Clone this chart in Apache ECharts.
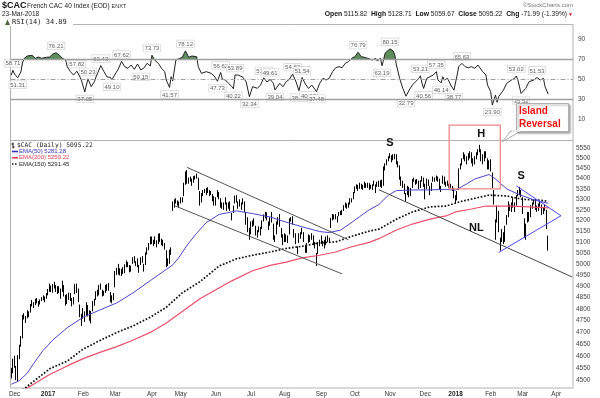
<!DOCTYPE html>
<html>
<head>
<meta charset="utf-8">
<script src="https://cdn.jsdelivr.net/npm/echarts@6/dist/echarts.min.js"></script>
<style>
html,body{margin:0;padding:0;background:#fff}
#main{width:600px;height:398px}
</style>
</head>
<body>
<div id="main"></div>
<script>
var monthNames = ['Jan', 'Feb', 'Mar', 'Apr', 'May', 'Jun', 'Jul', 'Aug', 'Sep', 'Oct', 'Nov', 'Dec'];
// Euronext closed days in range
var holidays = ['2016-12-26', '2017-04-14', '2017-04-17', '2017-05-01', '2017-12-25', '2017-12-26', '2018-01-01', '2018-03-30', '2018-04-02'];
var priceTicks = [4500, 4550, 4600, 4650, 4700, 4750, 4800, 4850, 4900, 4950, 5000, 5050, 5100, 5150, 5200, 5250, 5300, 5350, 5400, 5450, 5500, 5550];
var rsiTicks = [10, 30, 50, 70, 90];

// daily bars [open, high, low, close], one array per month
var nov16 = [[4536,4552,4509,4530],[4542,4590,4530,4578]];
var dec16 = [[4585,4602,4552,4560],[4545,4560,4502,4529],[4522,4605,4497,4600],[4600,4648,4588,4643],[4650,4685,4640,4677],
  [4685,4775,4675,4763],[4768,4782,4755,4770],[4758,4770,4740,4758],[4765,4795,4760,4783],[4780,4790,4765,4778],
  [4790,4822,4785,4815],[4818,4840,4812,4832],[4820,4830,4805,4815],[4825,4845,4818,4836],[4838,4848,4825,4833],
  [4828,4835,4810,4822],[4825,4842,4820,4838],[4845,4852,4835,4844],[4848,4860,4838,4847],[4840,4855,4830,4849],[4852,4870,4845,4862]];
var jan17 = [[4870,4888,4860,4882],[4890,4912,4875,4899],[4895,4903,4875,4887],[4885,4910,4872,4900],[4900,4920,4890,4909],
  [4900,4905,4875,4888],[4880,4900,4866,4888],[4890,4900,4870,4889],[4880,4890,4845,4863],[4880,4925,4875,4922],
  [4900,4905,4855,4863],[4855,4862,4815,4823],[4830,4865,4822,4860],[4860,4872,4840,4858],[4845,4870,4835,4850],
  [4840,4848,4812,4822],[4830,4852,4820,4848],[4870,4910,4865,4906],[4900,4912,4870,4878],[4880,4890,4830,4839],
  [4815,4820,4765,4774],[4770,4780,4728,4748]];
var feb17 = [[4765,4805,4758,4789],[4780,4790,4745,4766],[4775,4830,4770,4825],[4812,4818,4768,4776],[4780,4795,4750,4765],
  [4760,4792,4738,4785],[4795,4835,4790,4828],[4830,4845,4815,4827],[4845,4878,4840,4870],[4868,4885,4855,4880],
  [4878,4905,4860,4899],[4902,4912,4885,4899],[4880,4885,4855,4867],[4870,4880,4858,4868],[4875,4905,4870,4888],
  [4890,4910,4880,4895],[4905,4915,4880,4891],[4870,4875,4830,4845],[4845,4860,4825,4845],[4850,4870,4838,4858]];
var mar17 = [[4900,4968,4895,4960],[4965,4982,4950,4960],[4962,5000,4952,4995],[4975,4980,4948,4960],[4965,4978,4945,4963],
  [4960,4985,4955,4973],[4970,4998,4958,4990],[5000,5015,4985,4993],[4995,5008,4985,4999],[4990,4995,4962,4974],
  [4975,4992,4965,4985],[5010,5030,5000,5013],[5020,5035,5005,5013],[5005,5012,4990,5002],[5010,5025,4985,4995],
  [4970,4995,4960,4990],[5000,5030,4995,5022],[5025,5035,5005,5020],[4990,5000,4965,4994],[5000,5052,4995,5047],
  [5050,5075,5042,5069],[5070,5095,5062,5089],[5095,5125,5088,5122]];
var apr17 = [[5120,5125,5090,5101],[5095,5110,5082,5103],[5110,5125,5090,5100],[5090,5108,5075,5101],[5100,5138,5090,5132],
  [5130,5140,5100,5107],[5105,5115,5085,5101],[5100,5110,5080,5095],[5090,5095,5065,5071],[5060,5062,4985,4990],
  [5000,5025,4990,5004],[5010,5065,5000,5058],[5060,5075,5040,5059],[5255,5290,5245,5268],[5270,5300,5260,5289],
  [5290,5305,5280,5290],[5285,5295,5270,5283],[5280,5290,5260,5267]];
var may17 = [[5290,5310,5280,5304],[5300,5310,5285,5301],[5320,5380,5315,5372],[5375,5435,5370,5432],[5440,5442,5375,5383],
  [5385,5405,5375,5398],[5395,5410,5385,5400],[5395,5400,5365,5385],[5390,5412,5380,5405],[5400,5415,5395,5406],
  [5410,5425,5400,5417],[5400,5405,5345,5353],[5330,5340,5270,5284],[5290,5330,5285,5325],[5325,5345,5315,5335],
  [5340,5350,5330,5342],[5345,5355,5320,5342],[5345,5358,5330,5337],[5335,5345,5315,5336],[5330,5340,5320,5332],
  [5320,5325,5290,5305],[5305,5315,5270,5283]];
var jun17 = [[5280,5310,5270,5306],[5320,5345,5310,5343],[5330,5335,5300,5311],[5300,5305,5260,5270],[5270,5285,5255,5269],
  [5270,5285,5250,5273],[5280,5310,5275,5299],[5280,5285,5245,5259],[5265,5285,5255,5273],[5280,5290,5245,5253],
  [5225,5235,5200,5228],[5240,5270,5235,5263],[5285,5318,5280,5310],[5310,5320,5285,5293],[5280,5290,5255,5275],
  [5280,5300,5265,5281],[5275,5285,5250,5266],[5285,5305,5275,5287],[5280,5290,5240,5248],[5230,5240,5180,5195],
  [5205,5215,5145,5155],[5150,5165,5110,5120]];
var jul17 = [[5140,5195,5135,5188],[5185,5200,5170,5190],[5195,5210,5175,5187],[5170,5175,5130,5148],[5140,5155,5120,5145],
  [5155,5172,5145,5165],[5160,5170,5130,5145],[5165,5200,5160,5196],[5205,5228,5195,5222],[5220,5240,5210,5235],
  [5230,5238,5200,5211],[5190,5195,5155,5171],[5180,5215,5175,5208],[5210,5240,5190,5199],[5180,5185,5110,5117],
  [5115,5130,5100,5122],[5140,5195,5135,5188],[5190,5215,5180,5195],[5200,5230,5170,5186],[5160,5165,5120,5131],
  [5120,5135,5085,5093]];
var aug17 = [[5110,5140,5100,5130],[5125,5135,5100,5114],[5120,5130,5095,5116],[5140,5210,5135,5203],[5200,5215,5195,5209],
  [5205,5220,5180,5189],[5150,5160,5120,5130],[5125,5140,5090,5097],[5060,5080,5045,5060],[5100,5140,5095,5137],
  [5135,5145,5115,5132],[5145,5165,5135,5150],[5140,5145,5100,5110],[5080,5085,5050,5060],[5070,5095,5050,5090],
  [5100,5135,5095,5130],[5125,5130,5100,5117],[5120,5140,5110,5125],[5120,5130,5085,5090],[5090,5100,5070,5080],
  [5040,5050,4990,5029],[5050,5100,5045,5095],[5095,5110,5080,5085]];
var sep17 = [[5100,5130,5090,5119],[5100,5105,5080,5090],[5095,5110,5070,5095],[5090,5125,5085,5120],[5120,5130,5100,5115],
  [5105,5120,5095,5113],[5170,5212,5165,5208],[5210,5230,5200,5225],[5220,5228,5205,5219],[5220,5230,5205,5222],
  [5205,5220,5190,5213],[5225,5240,5220,5232],[5235,5245,5225,5234],[5235,5250,5225,5241],[5250,5272,5245,5267],
  [5270,5285,5260,5282],[5270,5280,5255,5268],[5270,5285,5260,5280],[5285,5305,5275,5300],[5295,5305,5285,5300],
  [5305,5335,5300,5330]];
var oct17 = [[5335,5362,5330,5359],[5360,5372,5350,5362],[5365,5370,5340,5350],[5355,5380,5350,5374],[5370,5375,5350,5360],
  [5360,5370,5345,5355],[5360,5385,5355,5374],[5370,5378,5355,5362],[5368,5380,5355,5366],[5370,5378,5345,5351],
  [5355,5370,5350,5361],[5360,5372,5345,5362],[5370,5390,5365,5383],[5365,5372,5330,5364],[5375,5385,5360,5372],
  [5380,5390,5360,5367],[5370,5392,5360,5388],[5390,5395,5355,5367],[5370,5460,5365,5454],[5460,5475,5440,5467],
  [5470,5495,5465,5491],[5495,5510,5485,5503]];
var nov17 = [[5510,5525,5500,5517],[5505,5515,5480,5489],[5495,5520,5490,5516],[5515,5522,5495,5512],[5515,5520,5470,5476],
  [5470,5485,5455,5470],[5460,5465,5395,5423],[5400,5410,5365,5380],[5375,5390,5355,5369],[5370,5375,5325,5342],
  [5320,5330,5290,5313],[5325,5365,5320,5362],[5350,5360,5310,5319],[5320,5355,5315,5347],[5360,5398,5355,5394],
  [5395,5405,5385,5395],[5390,5395,5370,5380],[5385,5398,5375,5390],[5385,5390,5350,5359],[5360,5392,5355,5387],
  [5395,5412,5385,5398],[5395,5405,5360,5372]];
var dec17 = [[5365,5375,5300,5317],[5355,5400,5350,5389],[5385,5395,5365,5376],[5360,5365,5320,5332],[5345,5380,5340,5376],
  [5390,5410,5385,5399],[5400,5405,5385,5393],[5400,5415,5390,5406],[5400,5410,5385,5398],[5395,5400,5345,5353],
  [5350,5365,5335,5350],[5380,5415,5375,5407],[5405,5410,5370,5375],[5370,5385,5360,5371],[5375,5390,5365,5374],
  [5370,5375,5355,5366],[5365,5375,5355,5366],[5355,5365,5340,5357],[5350,5355,5305,5313]];
var jan18 = [[5315,5320,5280,5288],[5300,5340,5295,5330],[5350,5450,5345,5446],[5450,5475,5445,5470],[5475,5500,5465,5497],
  [5505,5530,5495,5523],[5515,5520,5485,5504],[5500,5510,5470,5488],[5495,5525,5490,5517],[5520,5535,5500,5507],
  [5510,5530,5475,5481],[5480,5500,5460,5494],[5500,5510,5470,5489],[5500,5530,5495,5526],[5525,5545,5515,5540],
  [5550,5567,5530,5535],[5535,5545,5485,5495],[5500,5520,5470,5481],[5490,5535,5485,5529],[5525,5535,5500,5520],
  [5495,5500,5445,5457],[5460,5490,5445,5482]];
var feb18 = [[5480,5495,5435,5446],[5420,5430,5355,5364],[5330,5345,5275,5285],[5150,5205,5110,5162],[5200,5270,5190,5255],
  [5240,5245,5145,5151],[5095,5120,5060,5079],[5110,5160,5100,5140],[5130,5145,5090,5109],[5120,5175,5100,5167],
  [5190,5225,5180,5215],[5220,5290,5215,5283],[5270,5275,5245,5259],[5255,5285,5240,5263],[5270,5310,5260,5302],
  [5260,5285,5240,5268],[5280,5320,5270,5317],[5330,5345,5315,5339],[5340,5360,5320,5343],[5330,5345,5310,5320]];
var mar18 = [[5300,5310,5230,5242],[5200,5210,5120,5136],[5130,5185,5110,5176],[5200,5240,5190,5229],[5230,5240,5195,5212],
  [5220,5272,5215,5267],[5270,5285,5255,5275],[5290,5300,5275,5280],[5285,5295,5250,5261],[5260,5270,5240,5248],
  [5255,5280,5245,5274],[5275,5290,5265,5283],[5270,5275,5225,5233],[5240,5260,5230,5252],[5255,5275,5245,5268],
  [5245,5250,5160,5167],[5116,5129,5060,5095]];

// moving averages and RSI: [trading day #, value]
var ema50 = [[0,4485],[5,4500],[10,4530],[14,4570],[20,4625],[26,4668],[35,4720],[45,4765],[55,4795],[66,4827],[76,4870],
  [87,4925],[97,4975],[101,4995],[105,5030],[110,5085],[116,5140],[122,5190],[130,5228],[141,5245],[151,5232],[162,5216],
  [172,5192],[182,5170],[193,5148],[199,5143],[206,5155],[212,5185],[218,5218],[224,5250],[230,5275],[236,5320],[241,5342],
  [251,5345],[262,5345],[272,5348],[278,5344],[284,5370],[290,5398],[299,5420],[303,5398],[310,5350],[318,5322],[328,5295],[336,5281]];
var ema200 = [[8,4462],[24,4525],[35,4560],[45,4590],[55,4615],[66,4640],[76,4667],[87,4700],[97,4740],[107,4790],[118,4845],
  [138,4924],[151,4969],[162,4993],[172,5008],[182,5027],[193,5039],[203,5054],[213,5078],[224,5098],[230,5115],[241,5155],
  [251,5183],[262,5206],[272,5221],[278,5240],[288,5254],[297,5268],[303,5268],[313,5268],[324,5264],[336,5259]];
var ema150 = [[7,4462],[24,4548],[35,4580],[45,4630],[55,4664],[66,4700],[76,4727],[87,4765],[97,4808],[107,4871],[118,4920],
  [130,4990],[141,5023],[151,5039],[162,5054],[172,5070],[182,5080],[193,5096],[203,5100],[213,5126],[224,5150],[230,5159],
  [241,5206],[251,5240],[262,5264],[272,5268],[282,5291],[299,5320],[310,5316],[320,5300],[330,5296],[336,5291]];
var rsi = [[0,54],[1,58.71],[2,55],[4,51.31],[6,57],[7,66],[8,70.5],[10,73],[11,71.7],[13,73.7],[15,70.7],[17,72],[19,70.7],
  [22,71.7],[24,72],[26,75],[28,76.21],[30,74],[32,70.7],[34,69],[35,62.3],[37,57.3],[39,54],[40,53],[41,57.82],[43,52],[44,48],
  [46,37.05],[47,44],[48,50.23],[50,42.3],[52,47.3],[53,52],[54,55.7],[56,63.43],[58,57.3],[60,52],[62,51.7],[63,49.1],[65,55],
  [67,60],[69,67.62],[71,62.3],[73,60.7],[75,64],[77,59.7],[79,65],[81,59.15],[83,61],[85,65.7],[87,63],[88,73.73],[90,68.3],
  [92,65.7],[94,60.7],[96,57.3],[97,49],[99,41.57],[100,52.3],[101,48],[103,69],[104,70.7],[107,71.7],[108,72.3],[109,78.12],
  [111,71.7],[113,73],[116,72.3],[117,62.3],[119,55.7],[120,56.7],[122,57.3],[125,55.7],[127,53],[129,47.73],[131,56.62],
  [132,50],[134,49],[136,45.7],[138,42.3],[139,40.22],[140,53.89],[142,54],[145,51.7],[147,47],[149,32.34],[151,42.3],[154,40.7],
  [156,44],[158,51.21],[160,47],[162,49.61],[164,45.7],[165,39.04],[168,45.7],[170,42.3],[172,47.3],[174,49.7],[176,54.82],
  [178,48],[180,38.34],[182,51.54],[184,45],[186,40.57],[188,44],[191,37.48],[193,45.7],[195,50.7],[197,49],[199,50.7],[201,57.3],
  [203,61.3],[205,62.3],[207,61.3],[209,65.7],[211,67.3],[213,70.7],[215,72.3],[217,76.79],[219,72.3],[221,71.7],[223,70.7],
  [226,69],[228,70.7],[229,68],[231,70.7],[232,63.19],[234,76],[237,80.15],[239,78],[240,74],[241,64],[243,50.7],[245,40.7],
  [247,32.79],[249,39],[251,44],[253,47.3],[255,50.7],[256,53.21],[257,46],[258,40.56],[260,50.7],[262,52.3],[264,54],[266,57.35],
  [267,49],[269,46.14],[270,52.3],[271,49],[273,50.7],[275,44],[277,38.77],[279,54],[280,62.3],[282,65.63],[284,62.3],[286,61.3],
  [288,62.3],[290,60.7],[292,64],[295,57.3],[297,54],[298,44],[300,37.3],[301,23.9],[303,34],[304,26.7],[305,32.3],[308,39],
  [310,45.7],[313,49],[315,50.7],[316,53.02],[317,49],[319,35.52],[322,40.7],[324,47.3],[327,49],[329,51.53],[331,49],[333,50.7],
  [334,42.3],[336,34.89]];
var rsiHighs = [[1,58.71],[28,76.21],[41,57.82],[48,50.23],[56,63.43],[69,67.62],[88,73.73],[109,78.12],[131,56.62],[140,53.89],
  [158,51.21],[162,49.61],[176,54.82],[182,51.54],[217,76.79],[237,80.15],[256,53.21],[266,57.35],[282,65.63],[316,53.02],[329,51.53]];
var rsiLows = [[4,51.31],[46,37.05],[63,49.10],[81,59.15],[99,41.57],[129,47.73],[139,40.22],[149,32.34],[165,39.04],[180,38.34],
  [186,40.57],[191,37.48],[232,63.19],[247,32.79],[258,40.56],[269,46.14],[277,38.77],[301,23.90],[319,35.52]];

// drawn annotations: [trading day #, price]
var channelTop = [[110, 5455], [211, 5110]];
var channelBottom = [[102, 5270], [207, 4955]];
var neckline = [[230, 5346], [351, 4941]];
var triTop = [[316, 5365], [344, 5222]];
var triBottom = [[305, 5052], [344, 5222]];
var islandBox = [[274, 5667], [306, 5350]];
var notes = [[237, 5576, 'S'], [294, 5622, 'H'], [319, 5414, 'S'], [291, 5166, 'NL']];

var dates = [];
(function () {
	var d = new Date(Date.UTC(2016, 10, 29));
	var end = Date.UTC(2018, 3, 17);
	while (d.getTime() <= end) {
		var s = d.toISOString().slice(0, 10);
		var wd = d.getUTCDay();
		if (wd !== 0 && wd !== 6 && holidays.indexOf(s) < 0) dates.push(s);
		d.setUTCDate(d.getUTCDate() + 1);
	}
})();

var bars = [].concat(nov16, dec16, jan17, feb17, mar17, apr17, may17, jun17, jul17, aug17, sep17, oct17, nov17, dec17, jan18, feb18, mar18)
	.map(function (b) { return [b[0], b[3], b[2], b[1]]; });

function seg(p, color) {
	return [{ coord: p[0], lineStyle: { color: color } }, { coord: p[1] }];
}
function isMonthStart(idx, val) {
	return idx > 0 && val.slice(0, 7) !== dates[idx - 1].slice(0, 7);
}

var chart = echarts.init(document.getElementById('main'));
var FONT = 'Liberation Sans';

option = {
	animation : false,
	backgroundColor : '#ffffff',
	textStyle : { fontFamily : FONT },
	grid : [ {
		left : 10.5, right : 27, top : 24.5, height : 116,
		show : true, borderColor : '#b4b4b4', borderWidth : 1
	}, {
		left : 10.5, right : 27, top : 140.5, height : 248.5,
		show : true, borderColor : '#b4b4b4', borderWidth : 1
	} ],
	visualMap : {
		show : false, type : 'piecewise', seriesIndex : 0, dimension : 1,
		pieces : [ { min : 70, max : 120, color : '#5e8c5c' }, { min : -20, max : 70, color : 'rgba(255,255,255,0)' } ]
	},
	xAxis : [ {
		type : 'category', gridIndex : 0, data : dates,
		axisLine : { show : false }, axisTick : { show : false }, axisLabel : { show : false }
	}, {
		type : 'category', gridIndex : 1, data : dates,
		axisLine : { show : false }, axisTick : { show : false },
		axisLabel : {
			interval : isMonthStart, fontSize : 6.3, color : '#333', margin : 3,
			formatter : function (v) {
				var m = +v.slice(5, 7);
				return m === 1 ? '{y|' + v.slice(0, 4) + '}' : monthNames[m - 1];
			},
			rich : { y : { fontSize : 6.5, fontWeight : 'bold', color : '#222' } }
		}
	} ],
	yAxis : [ {
		type : 'value', gridIndex : 0, position : 'right', min : -11.5, max : 104.5,
		splitLine : { show : false }, axisLine : { show : false }, axisTick : { show : false },
		axisLabel : { customValues : rsiTicks, fontSize : 6.5, color : '#444', margin : 5 }
	}, {
		type : 'log', gridIndex : 1, position : 'right', min : 4470, max : 5589,
		splitLine : { show : false }, axisLine : { show : false }, axisTick : { show : false },
		axisLabel : { customValues : priceTicks, fontSize : 6.5, color : '#444', margin : 3,
			formatter : function (v) { return String(Math.round(v)); } }
	} ],
	series : [ {
		name : 'RSI fill', type : 'line', xAxisIndex : 0, yAxisIndex : 0, data : rsi,
		symbol : 'none', lineStyle : { width : 0 }, areaStyle : { opacity : 1 }, silent : true
	}, {
		name : 'RSI', type : 'line', xAxisIndex : 0, yAxisIndex : 0, data : rsi,
		symbol : 'none', lineStyle : { color : '#222', width : 1 },
		markLine : {
			silent : true, symbol : 'none', label : { show : false },
			data : [
				{ yAxis : 70, lineStyle : { color : '#a0a0a0', width : 1.3, type : 'solid' } },
				{ yAxis : 30, lineStyle : { color : '#a0a0a0', width : 1.3, type : 'solid' } },
				{ yAxis : 50, lineStyle : { color : '#a0a0a0', width : 1, type : [5, 2, 1, 2] } }
			]
		}
	}, {
		type : 'scatter', xAxisIndex : 0, yAxisIndex : 0, data : rsiHighs,
		symbolSize : 1, itemStyle : { color : 'rgba(0,0,0,0)' },
		label : {
			show : true, position : 'top', distance : 3, fontSize : 6, color : '#333',
			backgroundColor : '#fff', borderColor : '#c8c8c8', borderWidth : 0.6, padding : [1, 1, 0, 1],
			formatter : function (p) { return p.value[1].toFixed(2); }
		}
	}, {
		type : 'scatter', xAxisIndex : 0, yAxisIndex : 0, data : rsiLows,
		symbolSize : 1, itemStyle : { color : 'rgba(0,0,0,0)' },
		label : {
			show : true, position : 'bottom', distance : 3, fontSize : 6, color : '#333',
			backgroundColor : '#fff', borderColor : '#c8c8c8', borderWidth : 0.6, padding : [1, 1, 0, 1],
			formatter : function (p) { return p.value[1].toFixed(2); }
		}
	}, {
		name : '$CAC', type : 'candlestick', xAxisIndex : 1, yAxisIndex : 1, data : bars,
		barWidth : 1.3,
		itemStyle : { color : '#000', color0 : '#000', borderColor : '#000', borderColor0 : '#000', borderWidth : 1 }
	}, {
		name : 'EMA(200)', type : 'line', xAxisIndex : 1, yAxisIndex : 1, data : ema200,
		symbol : 'none', lineStyle : { color : '#e8506a', width : 1.2 }
	}, {
		name : 'EMA(150)', type : 'line', xAxisIndex : 1, yAxisIndex : 1, data : ema150,
		symbol : 'none', lineStyle : { color : '#111', width : 1.7, type : [1.7, 1.7] }
	}, {
		name : 'EMA(50)', type : 'line', xAxisIndex : 1, yAxisIndex : 1, data : ema50,
		symbol : 'none', lineStyle : { color : '#4848c8', width : 1 },
		markLine : {
			silent : true, symbol : 'none', label : { show : false },
			lineStyle : { width : 1, type : 'solid' },
			data : [
				seg(channelTop, '#555'), seg(channelBottom, '#555'), seg(neckline, '#444'),
				seg(triTop, '#4a4aff'), seg(triBottom, '#4a4aff')
			]
		}
	} ]
};
chart.setOption(option);

// header, legends and notes
function txt(x, y, text, style, z) {
	var s = { x : 0, y : 0, text : text, fontFamily : FONT, fontSize : 7, fill : '#222',
		align : 'left', verticalAlign : 'middle', textAlign : 'left', textVerticalAlign : 'middle' };
	for (var k in style) s[k] = style[k];
	if (style && style.align) s.textAlign = style.align;
	return { type : 'text', x : x, y : y, z : z || 20, style : s };
}
function ln(x1, y1, x2, y2, color, w, dash, z) {
	return { type : 'line', z : z || 20, shape : { x1 : x1, y1 : y1, x2 : x2, y2 : y2 },
		style : { stroke : color, lineWidth : w || 1, lineDash : dash || null } };
}
var g = [
	txt(2, 5.5, '$CAC', { fontSize : 9, fontWeight : 'bold', fill : '#111' }),
	txt(27, 6, 'French CAC 40 Index (EOD) {s|ENXT}', { fontSize : 6.5, rich : { s : { fontSize : 5.5, fill : '#333' } } }),
	txt(2, 14.5, '23-Mar-2018', { fontSize : 6.5 }),
	txt(573, 5, '\u00a9StockCharts.com', { fontSize : 6, fill : '#777', align : 'right' }),
	txt(567, 14.5, '{b|Open} 5115.82  {b|High} 5128.71  {b|Low} 5059.67  {b|Close} 5095.22  {b|Chg} -71.99 (-1.39%)',
		{ fontSize : 6.6, align : 'right', rich : { b : { fontWeight : 'bold', fontSize : 6.8, fill : '#111' } } }),
	txt(568, 15, '\u25bc', { fontSize : 5, fill : '#d0102a' }),
	{ type : 'rect', z : 19, shape : { x : 3, y : 19, width : 70, height : 7 }, style : { fill : '#fff' } },
	{ type : 'polygon', z : 20, shape : { points : [[5, 25], [7.5, 19.5], [10, 25]] }, style : { fill : '#4a6a3a' } },
	txt(12, 22.5, 'RSI(14) 34.89', { fontFamily : 'DejaVu Sans Mono', fontSize : 7 }),
	ln(13, 142.5, 13, 148.5, '#111', 1), ln(11.5, 144, 13, 144, '#111', 1), ln(13, 147, 14.5, 147, '#111', 1),
	txt(17, 145.5, '$CAC (Daily) 5095.22', { fontFamily : 'DejaVu Sans Mono', fontSize : 6.3 }),
	ln(12, 151.5, 18, 151.5, '#3535c0', 1.6),
	txt(19, 151.5, 'EMA(50) 5281.28', { fontSize : 6, fill : '#3535c0' }),
	ln(12, 157.8, 18, 157.8, '#e0405a', 1.6),
	txt(19, 157.8, 'EMA(200) 5259.22', { fontSize : 6, fill : '#e0405a' }),
	ln(12, 164, 18, 164, '#111', 1.6, [1.5, 1.5]),
	txt(19, 164, 'EMA(150) 5291.45', { fontSize : 6, fill : '#222' })
];
var a = chart.convertToPixel({ gridIndex : 1 }, islandBox[0]);
var b = chart.convertToPixel({ gridIndex : 1 }, islandBox[1]);
g.push({ type : 'rect', z : 21, shape : { x : a[0], y : a[1], width : b[0] - a[0], height : b[1] - a[1] },
	style : { fill : null, stroke : '#f08888', lineWidth : 1.3 } });
notes.forEach(function (n) {
	var p = chart.convertToPixel({ gridIndex : 1 }, [n[0], n[1]]);
	g.push(txt(p[0], p[1], n[2], { fontSize : 11, fontWeight : 'bold', fill : '#111', align : 'center' }));
});
// Island Reversal callout
g.push({ type : 'polygon', z : 22, shape : { points : [[511, 131], [502, 142], [521, 131]] },
	style : { fill : '#fff', stroke : '#aaa', lineWidth : 1 } });
g.push({ type : 'rect', z : 23, shape : { x : 516.5, y : 103.5, width : 52, height : 28 },
	style : { fill : '#fff', stroke : '#b0b0b0', lineWidth : 1, shadowBlur : 2, shadowOffsetX : 1.5, shadowOffsetY : 1.5, shadowColor : 'rgba(0,0,0,0.35)' } });
g.push(ln(512, 131, 520, 131, '#fff', 1.2, null, 24));
g.push(txt(519, 111, 'Island', { fontSize : 10, fontWeight : 'bold', fill : '#ee1111' }, 25));
g.push(txt(519, 124, 'Reversal', { fontSize : 10, fontWeight : 'bold', fill : '#ee1111' }, 25));
chart.setOption({ graphic : { elements : g } });
</script>
</body>
</html>
